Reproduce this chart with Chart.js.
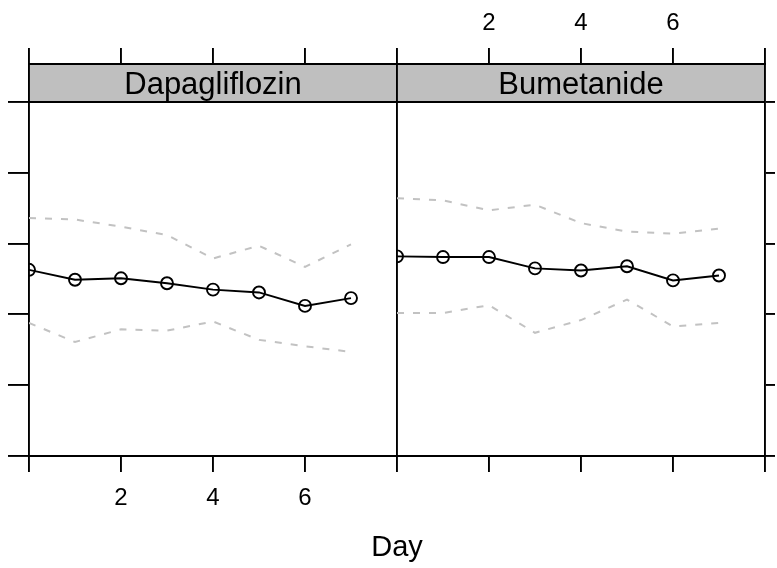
<!DOCTYPE html>
<html>
<head>
<meta charset="utf-8">
<title>Day</title>
<script src="https://cdn.jsdelivr.net/npm/chart.js@4.4.1/dist/chart.umd.min.js"></script>
<style>
  html, body { margin: 0; padding: 0; background: #fff; }
  canvas { display: block; }
</style>
</head>
<body>
<canvas id="panels" width="777" height="568"></canvas>
<script>
// ============================
// Data
// ============================
const DAYS = [0, 1, 2, 3, 4, 5, 6, 7];
const PANELS = ["Dapagliflozin", "Bumetanide"];

const DAPA_MEAN  = [2.63, 2.49, 2.51, 2.44, 2.35, 2.31, 2.12, 2.23];
const DAPA_UPPER = [3.36, 3.34, 3.24, 3.12, 2.79, 2.97, 2.67, 2.99];
const DAPA_LOWER = [1.88, 1.61, 1.79, 1.77, 1.90, 1.64, 1.55, 1.47];

const BUME_MEAN  = [2.82, 2.81, 2.81, 2.65, 2.62, 2.68, 2.48, 2.55];
const BUME_UPPER = [3.64, 3.61, 3.47, 3.55, 3.29, 3.17, 3.14, 3.21];
const BUME_LOWER = [2.02, 2.02, 2.13, 1.74, 1.92, 2.21, 1.83, 1.88];

const X_TICKS = [0, 2, 4, 6];        // ticks inside one panel
const Y_TICKS = [0, 1, 2, 3, 4, 5];

// ============================
// Layout settings
// ============================
const DAY_SPAN = 8;                  // each panel covers days 0..8
const Y_MAX = 5.537;                 // room above the top tick for the strip
const LINE_W = 1.9;
const FONT = '"Liberation Sans", Arial, Helvetica, sans-serif';

Chart.defaults.font.family = FONT;
Chart.defaults.color = "#000";

// panels sit side by side on one x scale, shifted by DAY_SPAN
function panelPoints(panel, values) {
    return DAYS.map((d, i) => ({ x: panel * DAY_SPAN + d, y: values[i] }));
}

function allXTicks() {
    const ticks = [];
    PANELS.forEach((_, p) => X_TICKS.forEach(t => ticks.push(p * DAY_SPAN + t)));
    ticks.push(PANELS.length * DAY_SPAN);
    return ticks.map(v => ({ value: v }));
}

function meanSet(panel, values) {
    return {
        panel: panel,
        data: panelPoints(panel, values),
        borderColor: "#000",
        borderWidth: LINE_W,
        pointRadius: 6,
        pointBorderWidth: LINE_W,
        pointBorderColor: "#000",
        pointBackgroundColor: "rgba(0,0,0,0)",
        tension: 0
    };
}

function bandSet(panel, values) {
    return {
        panel: panel,
        data: panelPoints(panel, values),
        borderColor: "#c2c2c2",
        borderWidth: 2,
        borderDash: [7, 9],
        pointRadius: 0,
        tension: 0
    };
}

// ========================
// Strip headers
// ========================
const stripPlugin = {
    id: "strips",
    beforeDraw(chart) {
        const { ctx, chartArea: a, scales } = chart;
        const x = scales.x;
        const stripBottom = scales.y.getPixelForValue(Y_TICKS[Y_TICKS.length - 1]);

        ctx.save();
        ctx.fillStyle = "#bfbfbf";
        ctx.fillRect(a.left, a.top, a.right - a.left, stripBottom - a.top);

        ctx.strokeStyle = "#000";
        ctx.lineWidth = LINE_W;
        ctx.beginPath();
        ctx.moveTo(a.left, stripBottom);
        ctx.lineTo(a.right, stripBottom);
        ctx.stroke();

        ctx.fillStyle = "#000";
        ctx.font = "31px " + FONT;
        ctx.textAlign = "center";
        ctx.textBaseline = "middle";
        PANELS.forEach((name, p) => {
            const cx = (x.getPixelForValue(p * DAY_SPAN) + x.getPixelForValue((p + 1) * DAY_SPAN)) / 2;
            ctx.fillText(name, cx, (a.top + stripBottom) / 2 + 2);
        });
        ctx.restore();
    }
};

// ========================
// Keep each series inside its own panel
// ========================
const panelClip = {
    id: "panelClip",
    beforeDatasetDraw(chart, args) {
        const ds = chart.data.datasets[args.index];
        const { ctx, chartArea: a, scales } = chart;
        const left = scales.x.getPixelForValue(ds.panel * DAY_SPAN);
        const right = scales.x.getPixelForValue((ds.panel + 1) * DAY_SPAN);
        ctx.save();
        ctx.beginPath();
        ctx.rect(left, a.top, right - left, a.bottom - a.top);
        ctx.clip();
    },
    afterDatasetDraw(chart) {
        chart.ctx.restore();
    }
};

const yAxis = (position, tickLength, width) => ({
    type: "linear",
    position: position,
    min: 0,
    max: Y_MAX,
    afterBuildTicks: s => { s.ticks = Y_TICKS.map(v => ({ value: v })); },
    afterFit: s => { s.width = width; },
    ticks: { display: false },
    grid: { drawOnChartArea: false, color: "#000", tickLength: tickLength, lineWidth: LINE_W },
    border: { display: true, color: "#000", width: LINE_W }
});

new Chart(document.getElementById("panels"), {
    type: "line",
    data: {
        datasets: [
            bandSet(0, DAPA_UPPER),
            bandSet(0, DAPA_LOWER),
            meanSet(0, DAPA_MEAN),
            bandSet(1, BUME_UPPER),
            bandSet(1, BUME_LOWER),
            meanSet(1, BUME_MEAN)
        ]
    },
    options: {
        responsive: false,
        animation: false,
        devicePixelRatio: 1,
        events: [],
        layout: { padding: 0 },
        plugins: {
            legend: { display: false },
            tooltip: { enabled: false }
        },
        scales: {
            x: {
                type: "linear",
                position: "bottom",
                min: 0,
                max: PANELS.length * DAY_SPAN,
                afterBuildTicks: s => { s.ticks = allXTicks(); },
                afterFit: s => { s.height = 112; },
                ticks: {
                    autoSkip: false,
                    maxRotation: 0,
                    padding: 12,
                    font: { size: 24 },
                    callback: v => (v > 0 && v < DAY_SPAN) ? String(v) : ""
                },
                grid: {
                    drawOnChartArea: true,
                    color: c => (c.tick && c.tick.value === DAY_SPAN) ? "#000" : "rgba(0,0,0,0)",
                    tickColor: "#000",
                    tickLength: 16,
                    lineWidth: LINE_W
                },
                border: { display: true, color: "#000", width: LINE_W },
                title: {
                    display: true,
                    text: "Day",
                    font: { size: 29 },
                    padding: { top: 0, bottom: 3 }
                }
            },
            xTop: {
                type: "linear",
                position: "top",
                min: 0,
                max: PANELS.length * DAY_SPAN,
                afterBuildTicks: s => { s.ticks = allXTicks(); },
                afterFit: s => { s.height = 64; },
                ticks: {
                    autoSkip: false,
                    maxRotation: 0,
                    padding: 10,
                    font: { size: 24 },
                    callback: v => (v > DAY_SPAN && v < 2 * DAY_SPAN) ? String(v - DAY_SPAN) : ""
                },
                grid: { drawOnChartArea: false, color: "#000", tickLength: 16, lineWidth: LINE_W },
                border: { display: true, color: "#000", width: LINE_W }
            },
            y: yAxis("left", 21, 29),
            yRight: yAxis("right", 10, 10)
        }
    },
    plugins: [stripPlugin, panelClip]
});
</script>
</body>
</html>
